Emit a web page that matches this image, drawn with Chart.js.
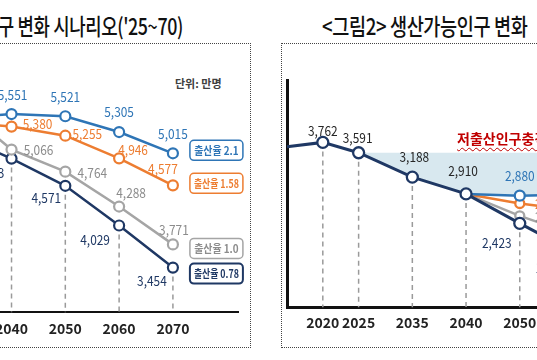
<!DOCTYPE html>
<html>
<head>
<meta charset="utf-8">
<script src="https://cdn.jsdelivr.net/npm/chart.js@4/dist/chart.umd.min.js"></script>
<style>
  html, body { margin: 0; padding: 0; background: #fff; }
  body { position: relative; width: 537px; height: 360px; overflow: hidden; font-family: "Noto Sans CJK KR", sans-serif; }
  .panel { position: absolute; box-sizing: border-box; border: 1px dotted #444; }
  .title { position: absolute; white-space: nowrap; font-size: 23px; font-weight: 500; line-height: 26px; color: #111; letter-spacing: -0.5px; }
  #title1 { right: 354px; top: 12px; transform: scaleX(0.775); transform-origin: right center; }
  #title2 { left: 322px; top: 12px; transform: scaleX(0.81); transform-origin: left center; }
  #unit { position: absolute; left: 175px; top: 75px; font-size: 11px; font-weight: bold; color: #404040; }
  #shock { position: absolute; left: 457px; top: 128px; white-space: nowrap; font-size: 14px; font-weight: bold; color: #c00000;
           text-decoration: underline wavy #c00000; text-decoration-thickness: 1px; text-underline-offset: 3px; }
  canvas { position: absolute; top: 0; }
</style>
</head>
<body>
<div class="panel" style="left:-10px; top:43px; width:261px; height:305px;"></div>
<div class="panel" style="left:281px; top:43px; width:300px; height:305px;"></div>
<div class="title" id="title1">&lt;그림1&gt; 총인구 변화 시나리오('25~70)</div>
<div class="title" id="title2">&lt;그림2&gt; 생산가능인구 변화</div>
<div id="unit">단위: 만명</div>
<canvas id="popChart" width="263" height="360" style="left:-13px"></canvas>
<canvas id="workChart" width="327" height="360" style="left:270px"></canvas>
<div id="shock">저출산인구충격</div>
<script>
// 그림1 총인구 (만명), 출산율 시나리오별
const years1 = [2035, 2040, 2050, 2060, 2070]
const pop21  = [5520, 5551, 5521, 5305, 5015]
const pop158 = [5410, 5380, 5255, 4946, 4577]
const pop10  = [5370, 5066, 4764, 4288, 3771]
const pop078 = [5100, 4943, 4571, 4029, 3454]
const scenarios = ['출산율 2.1', '출산율 1.58', '출산율 1.0', '출산율 0.78']

// 그림2 생산가능인구 (만명)
const years2  = ['', '2020', '2025', '2035', '2040', '2050', '2060']
const work078 = [3690, 3762, 3591, 3188, 2910, 2423, 1950]
const work21  = [null, null, null, null, 2910, 2880, 2900]
const work158 = [null, null, null, null, 2910, 2751, 2640]
const work10  = [null, null, null, null, 2910, 2547, 2240]

const blue = '#2E75B6', orange = '#ED7D31', gray = '#A5A5A5', navy = '#1F3864'
const grayText = '#8C8C8C', dark = '#262626'
const numFont = '14px "Noto Sans CJK KR"'
const tickFont = { family: 'Noto Sans CJK KR', size: 14, weight: 'bold' }
const fmt = v => v.toLocaleString('en-US')

function drawText(ctx, text, x, y, font, color, scaleX, align) {
  ctx.save()
  ctx.font = font
  ctx.fillStyle = color
  ctx.textBaseline = 'middle'
  ctx.textAlign = 'left'
  const w = ctx.measureText(text).width * scaleX
  const left = align === 'right' ? x - w : align === 'left' ? x : x - w / 2
  ctx.translate(left, y)
  ctx.scale(scaleX, 1)
  ctx.fillText(text, 0, 0)
  ctx.restore()
}

const rawY = d => (d && typeof d === 'object') ? d.y : d

// dashed lines from the lowest point down to the axis
const dropLines = {
  id: 'dropLines',
  beforeDatasetsDraw(chart, args, opts) {
    const { ctx, chartArea } = chart
    ctx.save()
    ctx.strokeStyle = '#9a9a9a'
    ctx.lineWidth = 1.5
    ctx.setLineDash([5, 4])
    opts.slots.forEach(slot => {
      let low = -Infinity, x = null
      opts.from.forEach(d => {
        if (rawY(chart.data.datasets[d].data[slot]) == null) return
        const el = chart.getDatasetMeta(d).data[slot]
        x = el.x
        low = Math.max(low, el.y)
      })
      if (x == null || x < chartArea.left) return
      ctx.beginPath()
      ctx.moveTo(x, low)
      ctx.lineTo(x, chartArea.bottom)
      ctx.stroke()
    })
    ctx.restore()
  }
}

// value labels next to points
const pointLabels = {
  id: 'pointLabels',
  afterDatasetsDraw(chart, args, opts) {
    const ctx = chart.ctx
    opts.sets.forEach(s => {
      const meta = chart.getDatasetMeta(s.dataset)
      const data = chart.data.datasets[s.dataset].data
      s.slots.forEach((slot, k) => {
        const off = s.off[k]
        const v = rawY(data[slot])
        if (!off || v == null) return
        const el = meta.data[slot]
        drawText(ctx, fmt(v), el.x + off[0], el.y + off[1], numFont, off[2] || s.color, 0.85, 'center')
      })
    })
  }
}

// boxed scenario tags at the end of each line
const endTags = {
  id: 'endTags',
  afterDatasetsDraw(chart, args, opts) {
    const ctx = chart.ctx
    opts.tags.forEach(t => {
      const meta = chart.getDatasetMeta(t.dataset)
      const el = meta.data[meta.data.length - 1]
      const w = 53, h = 20, x = el.x + 17, y = el.y + t.dy
      ctx.save()
      ctx.beginPath()
      ctx.roundRect(x, y - h / 2, w, h, 4)
      ctx.fillStyle = '#fff'
      ctx.fill()
      ctx.lineWidth = t.lw
      ctx.strokeStyle = t.color
      ctx.stroke()
      ctx.font = 'bold 11px "Noto Sans CJK KR"'
      const sc = Math.min(0.9, (w - 8) / ctx.measureText(t.text).width)
      ctx.restore()
      drawText(ctx, t.text, x + w / 2, y + 0.5, 'bold 11px "Noto Sans CJK KR"', t.textColor, sc, 'center')
    })
  }
}

// ---------- chart 1 ----------
const xy = arr => arr.map((v, i) => ({ x: years1[i], y: v }))
const line1 = (data, color) => ({
  data: xy(data), borderColor: color, borderWidth: 2.5,
  pointRadius: 5, pointBorderWidth: 2.2, pointBackgroundColor: '#fff', pointBorderColor: color
})

new Chart(document.getElementById('popChart'), {
  type: 'line',
  data: {
    datasets: [line1(pop21, blue), line1(pop158, orange), line1(pop10, gray), line1(pop078, navy)]
  },
  options: {
    responsive: false, animation: false, events: [],
    layout: { autoPadding: false, padding: { left: 0, right: 12, top: 60, bottom: 15 } },
    scales: {
      x: {
        type: 'linear', min: 2037.76, max: 2082.1,
        afterBuildTicks: s => { s.ticks = years1.filter(y => y >= 2040).map(v => ({ value: v })) },
        grid: { display: false, drawTicks: false },
        border: { display: true, color: '#111', width: 2 },
        ticks: { padding: 8, color: '#222', font: tickFont, callback: v => String(v) }
      },
      y: {
        min: 2845, max: 6289, display: true,
        grid: { display: false, drawTicks: false },
        border: { display: false },
        ticks: { display: false }
      }
    },
    plugins: {
      legend: { display: false }, tooltip: { enabled: false },
      dropLines: { slots: [1, 2, 3, 4], from: [0, 1, 2, 3] },
      pointLabels: {
        sets: [
          { dataset: 0, color: blue, slots: [1, 2, 3, 4], off: [[1, -19], [0, -20], [0, -20], [0, -20]] },
          { dataset: 1, color: orange, slots: [1, 2, 3, 4], off: [[26, -3], [22, -2], [14, -9], [-10, -17]] },
          { dataset: 2, color: grayText, slots: [1, 2, 3, 4], off: [[27, 0], [27, 1], [12, -14], [1, -15]] },
          { dataset: 3, color: navy, slots: [1, 2, 3, 4], off: [[-22, 14], [-19, 12], [-24, 14], [-21, 13]] }
        ]
      },
      endTags: {
        tags: [
          { dataset: 0, text: scenarios[0], color: blue, textColor: blue, lw: 1.5, dy: -3 },
          { dataset: 1, text: scenarios[1], color: orange, textColor: orange, lw: 1.5, dy: -2 },
          { dataset: 2, text: scenarios[2], color: gray, textColor: grayText, lw: 1.5, dy: 4 },
          { dataset: 3, text: scenarios[3], color: navy, textColor: navy, lw: 2, dy: 6 }
        ]
      }
    }
  },
  plugins: [dropLines, pointLabels, endTags]
})

// ---------- chart 2 ----------
// uneven year spacing on the original: blank category slots between years
const gap2 = [2, 2, 3, 3, 3, 3]
const slots2 = []
const at2 = []
years2.forEach((y, i) => {
  if (i > 0) for (let k = 1; k < gap2[i - 1]; k++) slots2.push('')
  at2.push(slots2.length)
  slots2.push(y)
})
const spread = arr => {
  const out = slots2.map(() => null)
  arr.forEach((v, i) => { out[at2[i]] = v })
  return out
}
const shockTop = years2.map((y, i) => i >= 2 ? work078[2] : null)
const shockBottom = years2.map((y, i) => work21[i] != null ? work21[i] : work078[i])

const line2 = (data, color, width, r, hideAt) => ({
  data: spread(data), borderColor: color, borderWidth: width, spanGaps: true,
  pointRadius: c => hideAt.includes(c.dataIndex) ? 0 : r,
  pointBorderWidth: 2.3, pointBackgroundColor: '#fff', pointBorderColor: color, order: 0
})

new Chart(document.getElementById('workChart'), {
  type: 'line',
  data: {
    labels: slots2,
    datasets: [
      line2(work078, navy, 3, 5.5, [at2[0]]),
      line2(work21, blue, 2.5, 5, [at2[4]]),
      line2(work158, orange, 2.5, 4.5, [at2[4]]),
      line2(work10, gray, 2.5, 4.5, [at2[4]]),
      { data: spread(shockTop), borderWidth: 0, pointRadius: 0, spanGaps: true, fill: { target: 5 }, backgroundColor: '#D8E8EF', order: 10 },
      { data: spread(shockBottom), borderWidth: 0, pointRadius: 0, spanGaps: true, fill: false, order: 11 }
    ]
  },
  options: {
    responsive: false, animation: false, events: [],
    layout: { autoPadding: false, padding: { left: 17, right: 0, top: 80, bottom: 22 } },
    scales: {
      x: {
        grid: { display: false, drawTicks: false },
        border: { display: true, color: '#111', width: 3 },
        ticks: { autoSkip: false, maxRotation: 0, padding: 7, color: '#222', font: tickFont }
      },
      y: {
        min: 1036, max: 4794,
        grid: { display: false, drawTicks: false },
        border: { display: true, color: '#111', width: 3 },
        ticks: { display: false }
      }
    },
    plugins: {
      legend: { display: false }, tooltip: { enabled: false },
      dropLines: { slots: at2.slice(1), from: [0, 1, 2, 3] },
      pointLabels: {
        sets: [
          { dataset: 0, color: navy, slots: at2.slice(1),
            off: [[0, -12, dark], [-1, -15, dark], [2, -20, dark], [-3, -23, dark], [-23, 19], [-23, 16]] },
          { dataset: 1, color: blue, slots: at2.slice(5), off: [[0, -20], [0, -20]] },
          { dataset: 2, color: orange, slots: at2.slice(5), off: [[30, 0], [30, 0]] },
          { dataset: 3, color: grayText, slots: at2.slice(5), off: [[30, 1], [30, 1]] }
        ]
      }
    }
  },
  plugins: [dropLines, pointLabels]
})
</script>
</body>
</html>
